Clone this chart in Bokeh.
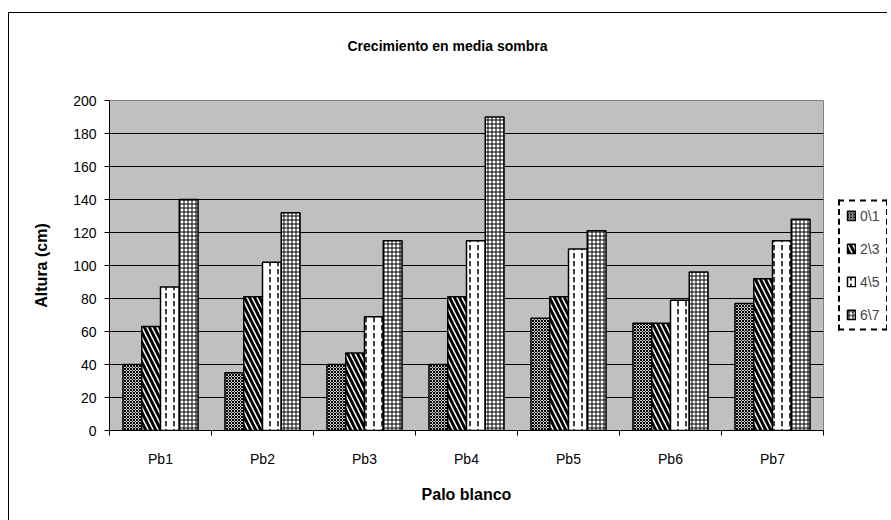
from bokeh.plotting import figure
from bokeh.layouts import row
from bokeh.models import (ColumnDataSource, FixedTicker, Legend, LegendItem, Range1d,
                          Title)
from bokeh.transform import dodge
from bokeh.embed import file_html
from bokeh.resources import INLINE

categories = ["Pb1", "Pb2", "Pb3", "Pb4", "Pb5", "Pb6", "Pb7"]
series_names = ["0\\1", "2\\3", "4\\5", "6\\7"]
s01 = [40, 35, 40, 40, 68, 65, 77]
s23 = [63, 81, 47, 81, 81, 65, 92]
s45 = [87, 102, 69, 115, 110, 79, 115]
s67 = [140, 132, 115, 190, 121, 96, 128]
y_ticks = [0, 20, 40, 60, 80, 100, 120, 140, 160, 180, 200]
title_text = "Crecimiento en media sombra"

centers = [i + 0.5 for i in range(len(categories))]
bounds = list(range(len(categories) + 1))

source = ColumnDataSource(dict(x=centers, s01=s01, s23=s23, s45=s45, s67=s67))

FONT = "Liberation Sans"

p = figure(frame_width=713, frame_height=329, x_range=Range1d(0, len(categories)),
           y_range=Range1d(0, 200), output_backend="svg", toolbar_location=None,
           min_border_left=100, min_border_top=87, min_border_bottom=91,
           min_border_right=15)
p.styles = {"border-left": "1px solid black", "border-top": "1px solid black"}

p.background_fill_color = "#C0C0C0"
p.border_fill_color = "white"
p.outline_line_color = "#808080"
p.outline_line_width = 1

# spacer (closest to the frame) then the real title above it
p.add_layout(Title(text=" ", text_font_size="1px", standoff=17), "above")
p.add_layout(Title(text=title_text, text_font=FONT, text_font_size="14px",
                   text_font_style="bold", text_color="black", align="left",
                   offset=238, vertical_align="top", standoff=49), "above")

bw = 0.184
styles = [
    dict(field="s01", off=-1.5 * bw, pattern="diagonal_cross", scale=3, weight=1, fill="#d0d0d0"),
    dict(field="s23", off=-0.5 * bw, pattern="left_diagonal_line", scale=10, weight=3, fill="white"),
    dict(field="s45", off=0.5 * bw, pattern="vertical_dash", scale=8, weight=1.5, fill="white"),
    dict(field="s67", off=1.5 * bw, pattern="cross", scale=4, weight=1, fill="white"),
]
for st in styles:
    p.vbar(x=dodge("x", st["off"], range=p.x_range), top=st["field"], width=bw,
           source=source, fill_color=st["fill"], line_color="black", line_width=1.5,
           hatch_pattern=st["pattern"], hatch_scale=st["scale"],
           hatch_weight=st["weight"], hatch_color="black")

# axes
p.yaxis.ticker = FixedTicker(ticks=y_ticks)
p.yaxis.major_tick_out = 5
p.yaxis.major_tick_in = 0
p.yaxis.minor_tick_out = 0
p.yaxis.axis_line_color = "black"
p.yaxis.major_label_text_font = FONT
p.yaxis.major_label_text_font_size = "14px"
p.yaxis.major_label_text_color = "black"
p.yaxis.major_label_standoff = 8
p.yaxis.axis_label = "Altura (cm)"
p.yaxis.axis_label_text_font = FONT
p.yaxis.axis_label_text_font_size = "16px"
p.yaxis.axis_label_text_font_style = "bold"
p.yaxis.axis_label_text_color = "black"
p.yaxis.axis_label_standoff = 20

p.xaxis.ticker = FixedTicker(ticks=centers, minor_ticks=bounds)
p.xaxis.major_label_overrides = {c: lab for c, lab in zip(centers, categories)}
p.xaxis.major_tick_out = 0
p.xaxis.major_tick_in = 0
p.xaxis.minor_tick_out = 5
p.xaxis.minor_tick_in = 0
p.xaxis.minor_tick_line_color = "black"
p.xaxis.axis_line_color = "black"
p.xaxis.major_label_text_font = FONT
p.xaxis.major_label_text_font_size = "14px"
p.xaxis.major_label_text_color = "black"
p.xaxis.major_label_standoff = 15
p.xaxis.axis_label = "Palo blanco"
p.xaxis.axis_label_text_font = FONT
p.xaxis.axis_label_text_font_size = "16px"
p.xaxis.axis_label_text_font_style = "bold"
p.xaxis.axis_label_text_color = "black"
p.xaxis.axis_label_standoff = 16

p.xgrid.visible = False
p.ygrid.ticker = FixedTicker(ticks=y_ticks[1:-1])
p.ygrid.grid_line_color = "black"
p.ygrid.grid_line_width = 1

# legend panel (separate small canvas at the right of the chart)
pl = figure(width=50, height=507, x_range=Range1d(0, 1), y_range=Range1d(0, 1),
            output_backend="svg", toolbar_location=None, min_border=0,
            x_axis_location=None, y_axis_location=None)
pl.styles = {"border-top": "1px solid black"}
pl.outline_line_color = None
pl.background_fill_color = "white"
pl.border_fill_color = "white"
pl.grid.visible = False
items = []
nan = float("nan")
for name, st in zip(series_names, styles):
    swatch = ColumnDataSource(dict(x=[nan], top=[nan]))
    r = pl.vbar(x="x", top="top", width=0.1, source=swatch, fill_color=st["fill"],
                line_color="black", line_width=1.5, hatch_pattern=st["pattern"],
                hatch_scale=st["scale"], hatch_weight=st["weight"], hatch_color="black")
    items.append(LegendItem(label=name, renderers=[r]))

legend = Legend(items=items, location="left", margin=1, padding=6,
                spacing=17, glyph_width=10, glyph_height=12, label_height=12,
                label_standoff=4, label_text_font=FONT, label_text_font_size="14px",
                border_line_color="black", border_line_alpha=1.0, border_line_width=2,
                border_line_dash="10 14", background_fill_color="white",
                background_fill_alpha=1.0)
pl.add_layout(legend)

layout = row(p, pl, spacing=0)
layout.styles = {"position": "relative", "top": "12px", "left": "8px"}

open("out.html", "w").write(file_html(layout, INLINE))
